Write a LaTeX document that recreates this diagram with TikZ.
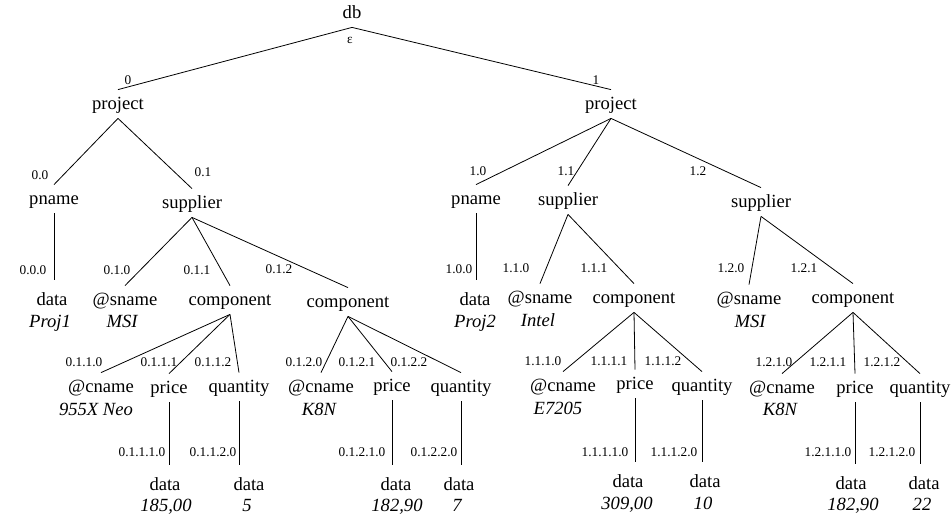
\documentclass[tikz,border=0pt]{standalone}
\usepackage{fontspec}
\setmainfont{Liberation Serif}

\begin{document}
\begin{tikzpicture}[x=1pt, y=-1pt, line width=0.8pt,
  tn/.style={anchor=base, inner sep=5pt, text height=14pt, text depth=4pt, font=\fontsize{18.6}{20}\selectfont},
  val/.style={anchor=base, inner sep=0pt, font=\fontsize{18.6}{20}\selectfont\itshape},
  lbl/.style={inner sep=0pt, text height=9pt, text depth=0pt, font=\fontsize{13.3}{15}\selectfont}]
\useasboundingbox (0,0) rectangle (952,515);
% tree nodes
\foreach \n/\t/\x/\y in {db/db/352/18, p0/project/118/109, p1/project/611/109,
    n00/pname/54/204, s01/supplier/192/208, n10/pname/476/204, s11/supplier/568/205, s12/supplier/761/207,
    d000/data/52/305, a010/@sname/125/305, c011/component/230/305, c012/component/348/307,
    d100/data/475/305, a110/@sname/540/303, c111/component/634/303, a120/@sname/749/304, c121/component/853/303,
    a0110/@cname/101/392, r0111/price/169/393, q0112/quantity/239/392,
    a0120/@cname/321/392, r0121/price/392/391, q0122/quantity/461/392,
    a1110/@cname/563/391, r1111/price/635/389, q1112/quantity/702/391,
    a1210/@cname/782/393, r1211/price/855/393, q1212/quantity/920/393,
    d01110/data/165/490, d01120/data/249/490, d01210/data/396/490, d01220/data/459/490,
    d11110/data/628/487, d11120/data/705/487, d12110/data/851/489, d12120/data/924/489}
  \node[tn] (\n) at (\x,\y) {\t};
% values
\foreach \n/\t/\x/\y in {v000/Proj1/50/327, v010/MSI/122/327, v100/Proj2/475/327, v110/Intel/538/326, v120/MSI/750/327,
    v0110/955X Neo/96/415, v0120/K8N/319/415, v1110/E7205/558/414, v1210/K8N/780/415,
    v01110/{185,00}/166/511, v01120/5/247/511, v01210/{182,90}/397/511, v01220/7/457/511,
    v11110/{309,00}/627/509, v11120/10/703/509, v12110/{182,90}/853/510, v12120/22/922/510}
  \node[val] (\n) at (\x,\y) {\t};
% positions
\foreach \n/\t/\x/\y in {leps/ε/350/39, l0/0/128/80, l1/1/596/80,
    l00/0.0/40/175, l01/0.1/203/172, l10/1.0/478/171, l11/1.1/566/171, l12/1.2/698/171,
    l000/0.0.0/33/270, l010/0.1.0/117/270, l011/0.1.1/197/270, l012/0.1.2/279/269,
    l100/1.0.0/459/269, l110/1.1.0/516/268, l111/1.1.1/594/268, l120/1.2.0/731/268, l121/1.2.1/804/268,
    l0110/0.1.1.0/84/362, l0111/0.1.1.1/159/362, l0112/0.1.1.2/213/362,
    l0120/0.1.2.0/304/362, l0121/0.1.2.1/357/362, l0122/0.1.2.2/409/362,
    l1110/1.1.1.0/543/361, l1111/1.1.1.1/609/361, l1112/1.1.1.2/663/361,
    l1210/1.2.1.0/774/362, l1211/1.2.1.1/828/362, l1212/1.2.1.2/882/362,
    l01110/0.1.1.1.0/142/452, l01120/0.1.1.2.0/213/452, l01210/0.1.2.1.0/362/452, l01220/0.1.2.2.0/434/452,
    l11110/1.1.1.1.0/605/452, l11120/1.1.1.2.0/674/452, l12110/1.2.1.1.0/828/452, l12120/1.2.1.2.0/892/452}
  \node[lbl] (\n) at (\x,\y) {\t};
% edges
\foreach \a/\b in {db/p0, db/p1, p0/n00, p0/s01, p1/n10, p1/s11, p1/s12,
    s01/a010, s01/c011, s01/c012, s11/a110, s11/c111, s12/a120, s12/c121,
    c011/a0110, c011/r0111, c011/q0112, c012/a0120, c012/r0121, c012/q0122,
    c111/a1110, c111/r1111, c111/q1112, c121/a1210, c121/r1211, c121/q1212}
  \draw (\a.south) -- (\b.north);
\foreach \a/\b in {n00/d000, n10/d100, r0111/d01110, q0112/d01120, r0121/d01210, q0122/d01220,
    r1111/d11110, q1112/d11120, r1211/d12110, q1212/d12120}
  \draw[shorten >=6pt] (\a.south) -- (\a.south |- \b.north);
\end{tikzpicture}
\end{document}
